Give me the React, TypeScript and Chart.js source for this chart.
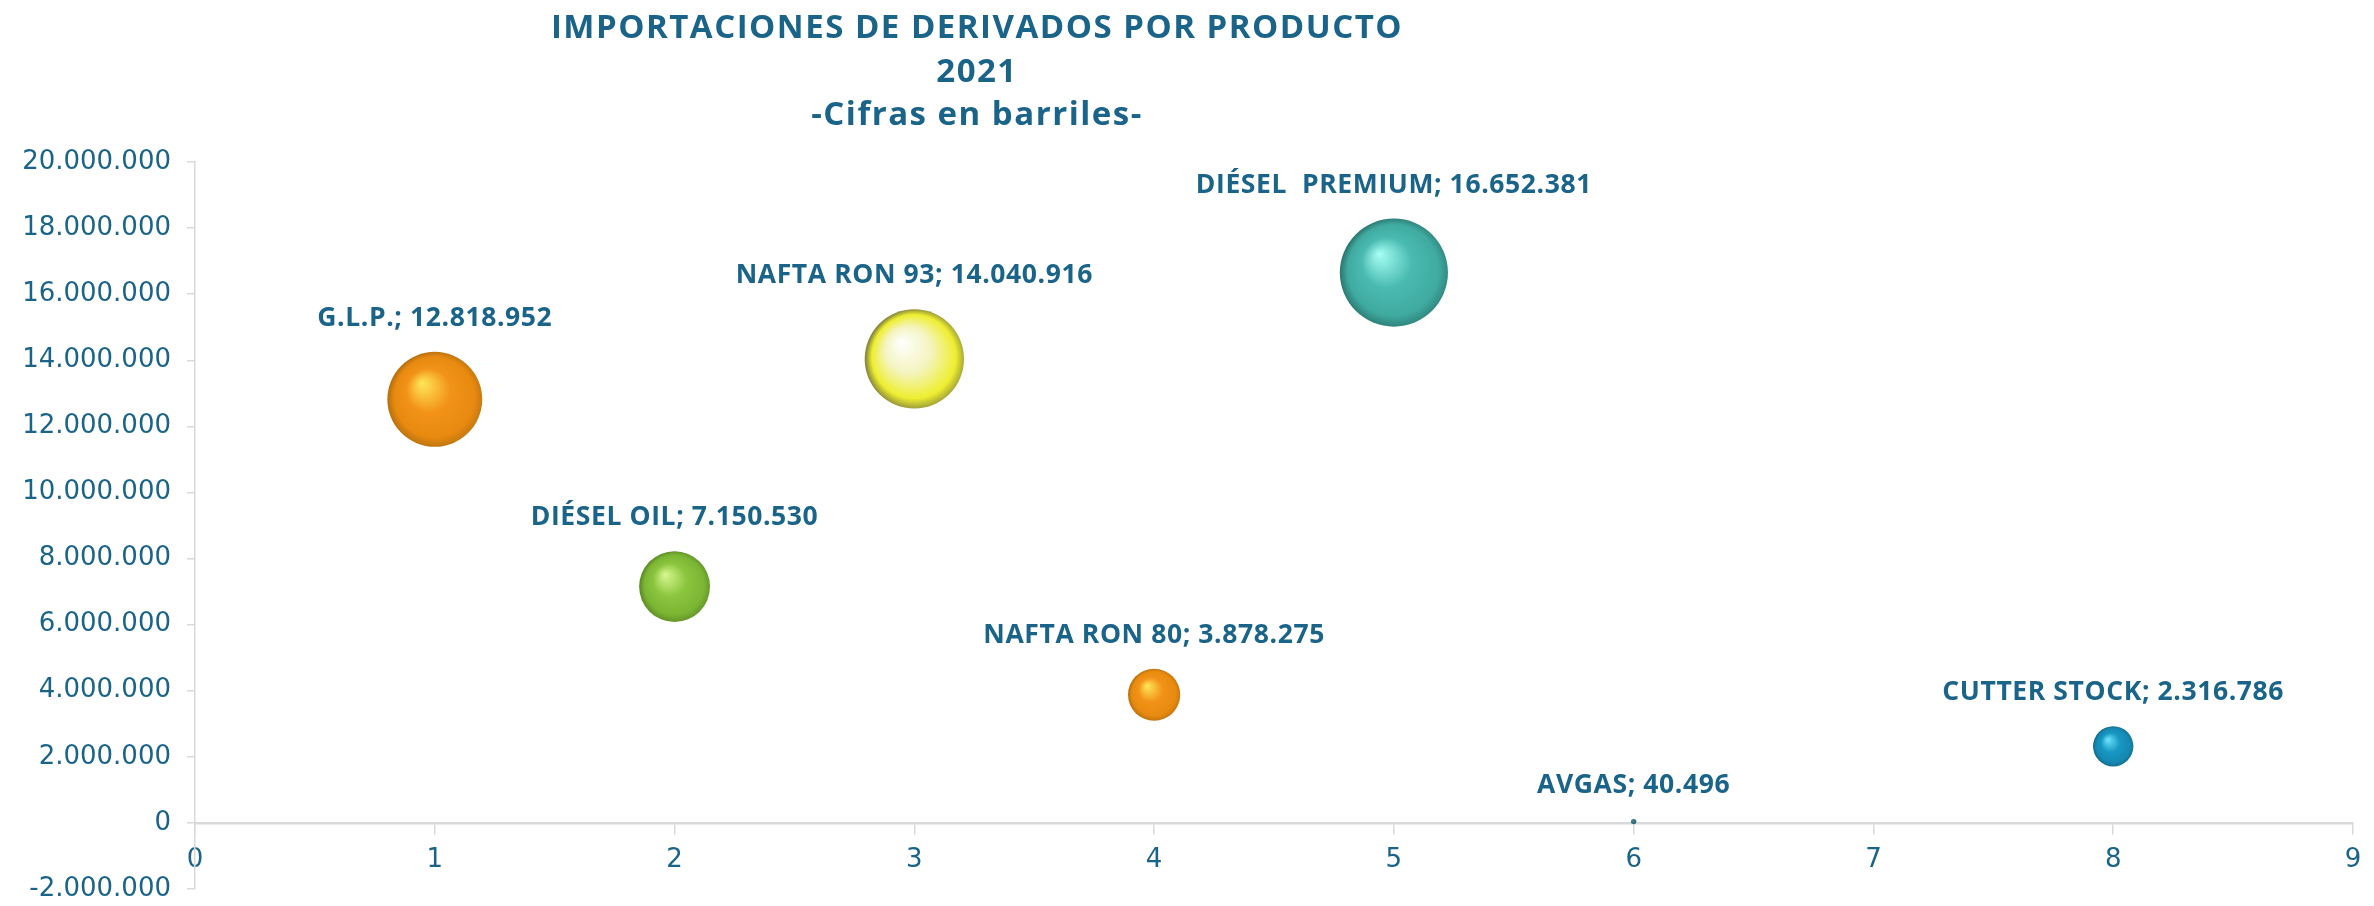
import React, { useEffect, useRef } from "react";
import { Chart, registerables } from "chart.js";

Chart.register(...registerables);

const TITLE_LINES = ["IMPORTACIONES DE DERIVADOS POR PRODUCTO", "2021", "-Cifras en barriles-"];
const PRODUCTS = ["G.L.P.", "DIÉSEL OIL", "NAFTA RON 93", "NAFTA RON 80", "DIÉSEL  PREMIUM", "AVGAS", "CUTTER STOCK"];
const X_POSITIONS = [1, 2, 3, 4, 5, 6, 8];
const VOLUMES = [12818952, 7150530, 14040916, 3878275, 16652381, 40496, 2316786];
const Y_MIN = -2000000;
const Y_MAX = 20000000;
const Y_STEP = 2000000;
const X_MIN = 0;
const X_MAX = 9;

const HIGHLIGHT = ["#FFE85A", "#D8F890", "#FFFFFF", "#FFE85A", "#A8FFF6", "#5E9AA8", "#6FE6FF"];
const BASE = ["#F29318", "#8CC63F", "#F4F4C0", "#F29318", "#4ABBB1", "#2F6F80", "#1898C4"];
const RIM = ["#E88A10", "#7AB534", "#EEEE30", "#E88A10", "#3FAAA0", "#2F6F80", "#1488B2"];
const SHADOW = ["#B9720F", "#5E8C26", "#8A8A3A", "#B9720F", "#2C7C75", "#2A5F6C", "#136A88"];

const TEXT_COLOR = "#1B6489";
const AXIS_COLOR = "#D9D9D9";
const BUBBLE_SCALE = 13.25;

const fmt = (v: number) => {
  const s = Math.round(Math.abs(v)).toString().replace(/\B(?=(\d{3})+(?!\d))/g, ".");
  return (v < 0 ? "-" : "") + s;
};

export default function App() {
  const ref = useRef<HTMLCanvasElement | null>(null);
  useEffect(() => {
    if (!ref.current) return;
    const titlePlugin = {
      id: "customTitle",
      afterDraw(chart: any) {
        const c = chart.ctx;
        c.save();
        c.fillStyle = TEXT_COLOR;
        c.textAlign = "center";
        c.textBaseline = "alphabetic";
        c.font = "bold 33px 'Open Sans'";
        try { (c as any).letterSpacing = "1.5px"; } catch (e) {}
        const ys = [38, 82, 125];
        TITLE_LINES.forEach((t, i) => c.fillText(t, 977, ys[i]));
        c.restore();
      },
    };
    const labelPlugin = {
      id: "bubbleLabels",
      afterDatasetsDraw(chart: any) {
        const c = chart.ctx;
        const meta = chart.getDatasetMeta(0);
        c.save();
        c.fillStyle = TEXT_COLOR;
        c.textAlign = "center";
        c.textBaseline = "alphabetic";
        c.font = "bold 26.5px 'Open Sans'";
        try { (c as any).letterSpacing = "0.6px"; } catch (e) {}
        meta.data.forEach((el: any, i: number) => {
          const r = el.options.radius;
          c.fillText(`${PRODUCTS[i]}; ${fmt(VOLUMES[i])}`, el.x, el.y - r - 26);
        });
        c.restore();
      },
    };
    const data = X_POSITIONS.map((x, i) => ({
      x,
      y: VOLUMES[i],
      r: BUBBLE_SCALE * Math.sqrt(VOLUMES[i] / 1e6),
    }));
    const chart = new Chart(ref.current, {
      type: "bubble",
      data: {
        datasets: [
          {
            data,
            borderWidth: 0,
            borderColor: "rgba(0,0,0,0)",
            backgroundColor: (ctx: any) => {
              const i = ctx.dataIndex ?? 0;
              if (ctx.type !== "data") return BASE[i];
              const chart = ctx.chart;
              if (!chart.chartArea) return BASE[i];
              const raw = ctx.raw;
              const x = chart.scales.x.getPixelForValue(raw.x);
              const y = chart.scales.y.getPixelForValue(raw.y);
              const r = Math.max(raw.r, 1);
              const g = chart.ctx.createRadialGradient(x - 0.28 * r, y - 0.35 * r, 0, x + 0.05 * r, y + 0.02 * r, r * 1.03);
              g.addColorStop(0, HIGHLIGHT[i]);
              g.addColorStop(0.45, BASE[i]);
              g.addColorStop(0.82, RIM[i]);
              g.addColorStop(1, SHADOW[i]);
              return g;
            },
          },
        ],
      },
      options: {
        animation: false,
        responsive: false,
        clip: false,
        layout: { autoPadding: false, padding: { left: 0, right: 21, top: 162, bottom: 17 } },
        plugins: { legend: { display: false }, tooltip: { enabled: false }, title: { display: false } },
        scales: {
          x: {
            type: "linear",
            min: X_MIN,
            max: X_MAX,
            position: { y: 0 },
            afterFit: (s: any) => {
              s.height = 0;
              s.paddingTop = 0;
              s.paddingBottom = 0;
            },
            ticks: { stepSize: 1, color: TEXT_COLOR, font: { family: "DejaVu Sans", size: 26 }, padding: 12 },
            grid: { drawOnChartArea: false, color: AXIS_COLOR, tickLength: 10, lineWidth: 1.5 },
            border: { color: AXIS_COLOR, width: 2.5 },
          },
          y: {
            type: "linear",
            min: Y_MIN,
            max: Y_MAX,
            afterFit: (s: any) => {
              s.width = 195;
              s.paddingTop = 0;
              s.paddingBottom = 0;
            },
            ticks: {
              stepSize: Y_STEP,
              color: TEXT_COLOR,
              font: { family: "DejaVu Sans", size: 26 },
              padding: 16,
              callback: (v: any) => fmt(Number(v)),
            },
            grid: { drawOnChartArea: false, color: AXIS_COLOR, tickLength: 8, lineWidth: 1.5 },
            border: { color: AXIS_COLOR, width: 1.5 },
          },
        },
      },
      plugins: [titlePlugin, labelPlugin],
    } as any);
    return () => chart.destroy();
  }, []);
  return (
    <canvas
      ref={ref}
      width={2374}
      height={906}
      style={{ position: "absolute", left: 0, top: 0, width: 2374, height: 906, background: "#fff" }}
    />
  );
}
